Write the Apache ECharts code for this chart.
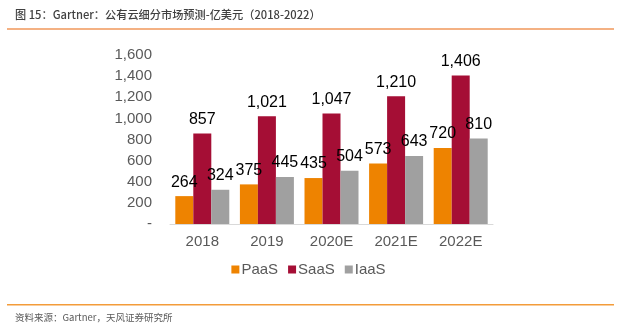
<!DOCTYPE html>
<html><head><meta charset="utf-8">
<script src="https://cdn.jsdelivr.net/npm/echarts@6/dist/echarts.min.js"></script>
<style>html,body{margin:0;padding:0;background:#fff}#c{width:617px;height:326px}</style>
</head><body><div id="c"></div>
<script>
const categories = ['2018', '2019', '2020E', '2021E', '2022E'];
const paas = [264, 375, 435, 573, 720];
const saas = [857, 1021, 1047, 1210, 1406];
const iaas = [324, 445, 504, 643, 810];
const seriesNames = ['PaaS', 'SaaS', 'IaaS'];
const yTicks = { min: 0, max: 1600, interval: 200 };

const fmt = v => v === 0 ? '-' : v.toLocaleString('en-US');
const font = '"Liberation Sans", Arial, sans-serif';
const cjk = '"Noto Sans CJK SC", sans-serif';
const colors = ['#EE8300', '#A50E35', '#A0A0A0'];

const chart = echarts.init(document.getElementById('c'));
const mk = (name, data, i) => ({
  name, type: 'bar', data, barWidth: 18, barGap: '0%',
  itemStyle: { color: colors[i] },
  label: { show: true, position: 'top', distance: 6, color: '#000', fontSize: 16, fontFamily: font,
           formatter: p => fmt(p.value) }
});
chart.setOption({
  animation: false,
  grid: { left: 170, right: 124, top: 55, bottom: 102 },
  legend: {
    data: seriesNames, bottom: 44, left: 'center', itemWidth: 8, itemHeight: 8, itemGap: 10,
    icon: 'rect', textStyle: { color: '#595959', fontSize: 15, fontFamily: font, padding: [0, 0, 0, -3] }
  },
  xAxis: {
    type: 'category', data: categories,
    axisLine: { lineStyle: { color: '#D9D9D9' } }, axisTick: { show: false },
    axisLabel: { color: '#595959', fontSize: 15, fontFamily: font, margin: 10 }
  },
  yAxis: {
    type: 'value', min: yTicks.min, max: yTicks.max, interval: yTicks.interval,
    splitLine: { show: false }, axisLine: { show: false }, axisTick: { show: false },
    axisLabel: { color: '#595959', fontSize: 15, fontFamily: font, margin: 18, formatter: fmt }
  },
  series: [mk(seriesNames[0], paas, 0), mk(seriesNames[1], saas, 1), mk(seriesNames[2], iaas, 2)],
  graphic: [
    { type: 'text', left: 15, top: 9, style: { text: '图 15：Gartner：公有云细分市场预测-亿美元（2018-2022）', fill: '#404040', font: '500 11.2px ' + cjk } },
    { type: 'rect', shape: { x: 7, y: 28, width: 607, height: 2 }, style: { fill: '#F4B183' } },
    { type: 'rect', shape: { x: 7, y: 304, width: 607, height: 1.5 }, style: { fill: '#F39C3A' } },
    { type: 'text', left: 15, top: 313, style: { text: '资料来源：Gartner，天风证券研究所', fill: '#595959', font: '9.5px ' + cjk } }
  ]
});
</script></body></html>
